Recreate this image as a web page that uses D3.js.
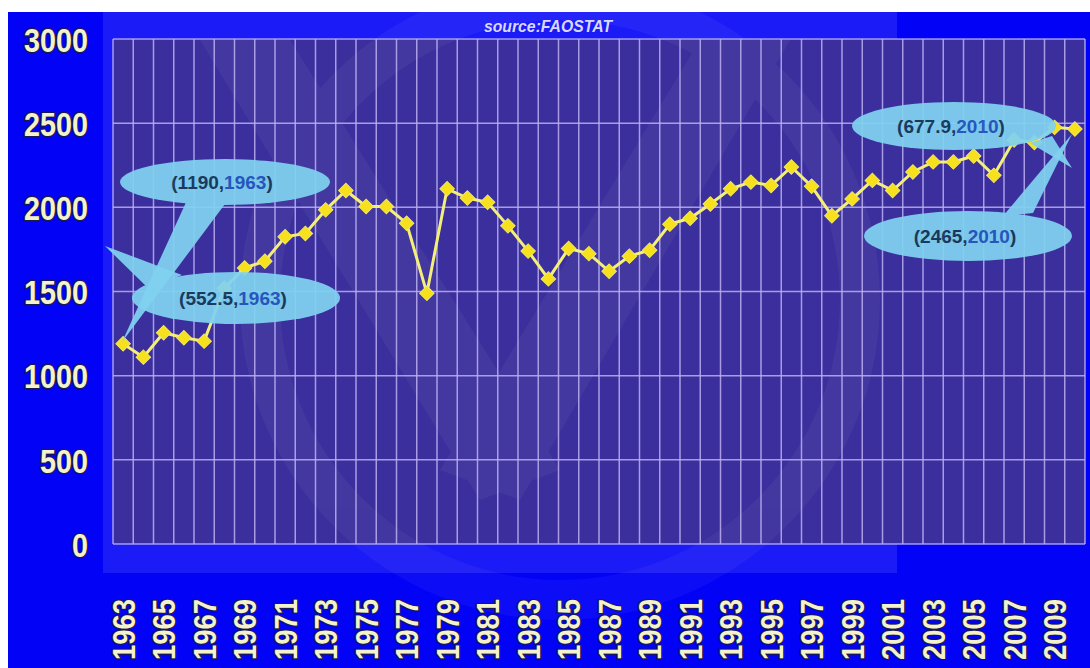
<!DOCTYPE html>
<html>
<head>
<meta charset="utf-8">
<script src="https://cdn.jsdelivr.net/npm/d3@7"></script>
<style>
  body { margin: 0; background: #ffffff; }
  svg { display: block; }
</style>
</head>
<body>
<div id="vis"></div>
<script>
// chart size
const FRAME_WIDTH = 1090;
const FRAME_HEIGHT = 668;

// data
const years = [1963, 1964, 1965, 1966, 1967, 1968, 1969, 1970, 1971, 1972,
    1973, 1974, 1975, 1976, 1977, 1978, 1979, 1980, 1981, 1982,
    1983, 1984, 1985, 1986, 1987, 1988, 1989, 1990, 1991, 1992,
    1993, 1994, 1995, 1996, 1997, 1998, 1999, 2000, 2001, 2002,
    2003, 2004, 2005, 2006, 2007, 2008, 2009, 2010];
const values = [1190, 1110, 1255, 1225, 1205, 1520, 1640, 1680, 1825, 1845,
    1985, 2100, 2005, 2005, 1905, 1490, 2110, 2055, 2030, 1890,
    1740, 1575, 1755, 1725, 1620, 1710, 1745, 1900, 1935, 2020,
    2110, 2150, 2130, 2240, 2125, 1950, 2050, 2160, 2100, 2210,
    2270, 2270, 2305, 2190, 2400, 2385, 2475, 2465];
const yTicks = [0, 500, 1000, 1500, 2000, 2500, 3000];
const xTickYears = [1963, 1965, 1967, 1969, 1971, 1973, 1975, 1977, 1979, 1981,
    1983, 1985, 1987, 1989, 1991, 1993, 1995, 1997, 1999, 2001,
    2003, 2005, 2007, 2009];

// callouts: first value, year
const calloutValues = ["1190", "552.5", "677.9", "2465"];
const calloutYears = ["1963", "1963", "2010", "2010"];

const data = years.map((y, i) => ({year: y, value: values[i]}));

const FRAME = d3.select("#vis")
    .append("svg")
    .attr("width", FRAME_WIDTH)
    .attr("height", FRAME_HEIGHT);

// backgrounds
FRAME.append("rect")
    .attr("x", 8).attr("y", 12)
    .attr("width", FRAME_WIDTH - 8).attr("height", FRAME_HEIGHT - 12)
    .attr("fill", "#0202f6");

FRAME.append("rect")
    .attr("x", 103).attr("y", 12)
    .attr("width", 794).attr("height", 561)
    .attr("fill", "#ffffff").attr("opacity", 0.1);

// scales
const X_SCALE = d3.scaleBand()
    .domain(years)
    .range([113, 1085])
    .padding(0);

const Y_SCALE = d3.scaleLinear()
    .domain([0, 3000])
    .range([544, 39]);

const BW = X_SCALE.bandwidth();

// plot area
FRAME.append("rect")
    .attr("x", 113).attr("y", Y_SCALE(3000))
    .attr("width", 1085 - 113).attr("height", Y_SCALE(0) - Y_SCALE(3000))
    .attr("fill", "#3a2f9c");

// faint watermark shapes
const wm = FRAME.append("g").attr("opacity", 0.045).attr("fill", "#ffffff");
wm.append("path").attr("d", "M200,40 L290,40 L560,470 L480,500 Z");
wm.append("path").attr("d", "M700,40 L790,40 L520,500 L440,470 Z");
wm.append("circle").attr("cx", 560).attr("cy", 300).attr("r", 300)
    .attr("fill", "none").attr("stroke", "#ffffff").attr("stroke-width", 40);

// grid
FRAME.append("g")
    .selectAll("line")
    .data(years.concat(["end"]))
    .enter()
    .append("line")
    .attr("x1", (d) => d === "end" ? 1085 : X_SCALE(d))
    .attr("x2", (d) => d === "end" ? 1085 : X_SCALE(d))
    .attr("y1", Y_SCALE(3000))
    .attr("y2", Y_SCALE(0))
    .attr("stroke", "#bcb0f2")
    .attr("stroke-opacity", 0.85)
    .attr("stroke-width", 1.5);

FRAME.append("g")
    .selectAll("line")
    .data(yTicks)
    .enter()
    .append("line")
    .attr("x1", 113)
    .attr("x2", 1085)
    .attr("y1", (d) => Y_SCALE(d))
    .attr("y2", (d) => Y_SCALE(d))
    .attr("stroke", "#bcb0f2")
    .attr("stroke-opacity", 0.85)
    .attr("stroke-width", 1.5);

// title
FRAME.append("text")
    .attr("x", 548)
    .attr("y", 32)
    .attr("text-anchor", "middle")
    .attr("font-family", "Liberation Sans, Arial, sans-serif")
    .attr("font-size", 17)
    .attr("font-weight", "bold")
    .attr("font-style", "italic")
    .attr("textLength", 128)
    .attr("lengthAdjust", "spacingAndGlyphs")
    .attr("fill", "#d8d8ff")
    .text("source:FAOSTAT");

// axes
const yAxis = FRAME.append("g")
    .attr("transform", "translate(88,0)")
    .call(d3.axisLeft(Y_SCALE).tickValues(yTicks).tickFormat(d3.format("d")).tickSize(0).tickPadding(0));
yAxis.select(".domain").remove();
yAxis.selectAll("text")
    .attr("font-family", "Liberation Sans, Arial, sans-serif")
    .attr("font-size", 34)
    .attr("font-weight", "bold")
    .attr("dy", "0.36em")
    .attr("textLength", (d) => String(d).length * 16)
    .attr("lengthAdjust", "spacingAndGlyphs")
    .attr("fill", "#f4f2cc")
    .attr("stroke", "#1a1a50")
    .attr("stroke-width", 2.5)
    .attr("paint-order", "stroke");

const xAxis = FRAME.append("g")
    .attr("transform", "translate(0,660)")
    .call(d3.axisBottom(X_SCALE).tickValues(xTickYears).tickSize(0).tickPadding(0));
xAxis.select(".domain").remove();
xAxis.selectAll("text")
    .attr("transform", "rotate(-90)")
    .attr("x", 0)
    .attr("y", 0)
    .attr("dy", "0.36em")
    .attr("text-anchor", "start")
    .attr("font-family", "Liberation Sans, Arial, sans-serif")
    .attr("font-size", 32)
    .attr("font-weight", "bold")
    .attr("textLength", 61)
    .attr("lengthAdjust", "spacingAndGlyphs")
    .attr("fill", "#f4f2cc")
    .attr("stroke", "#1a1a50")
    .attr("stroke-width", 2.5)
    .attr("paint-order", "stroke");

// line and markers
const line = d3.line()
    .x((d) => X_SCALE(d.year) + BW / 2)
    .y((d) => Y_SCALE(d.value));

FRAME.append("path")
    .datum(data)
    .attr("d", line)
    .attr("fill", "none")
    .attr("stroke", "#f4ee7a")
    .attr("stroke-width", 3);

FRAME.selectAll(".point")
    .data(data)
    .enter()
    .append("path")
    .attr("class", "point")
    .attr("d", d3.symbol().type(d3.symbolSquare).size(105))
    .attr("transform", (d) => "translate(" + (X_SCALE(d.year) + BW / 2) + "," + Y_SCALE(d.value) + ") rotate(45)")
    .attr("fill", "#f7e01c")
    .attr("stroke", "#f2e860")
    .attr("stroke-width", 1);

// callouts
const calloutShapes = [
    {cx: 225, cy: 182, rx: 105, ry: 23, tail: [[188, 198], [228, 200], [122, 342]]},
    {cx: 236, cy: 298, rx: 104, ry: 26, tail: [[148, 288], [182, 275], [105, 246]]},
    {cx: 954, cy: 126, rx: 102, ry: 24, tail: [[1030, 143], [1052, 136], [1072, 168]]},
    {cx: 968, cy: 236, rx: 104, ry: 25, tail: [[1003, 216], [1033, 213], [1072, 134]]}
];

calloutShapes.forEach((c, i) => {
    const g = FRAME.append("g").attr("opacity", 0.93);
    g.append("polygon")
        .attr("points", c.tail.map((p) => p.join(",")).join(" "))
        .attr("fill", "#80d2f0");
    g.append("ellipse")
        .attr("cx", c.cx).attr("cy", c.cy)
        .attr("rx", c.rx).attr("ry", c.ry)
        .attr("fill", "#80d2f0");
    const t = g.append("text")
        .attr("x", c.cx - 3)
        .attr("y", c.cy + 7)
        .attr("text-anchor", "middle")
        .attr("font-family", "Liberation Sans, Arial, sans-serif")
        .attr("font-size", 19)
        .attr("font-weight", "bold");
    t.append("tspan").attr("fill", "#163a58").text("(" + calloutValues[i] + ",");
    t.append("tspan").attr("fill", "#2458c0").text(calloutYears[i]);
    t.append("tspan").attr("fill", "#163a58").text(")");
});
</script>
</body>
</html>
